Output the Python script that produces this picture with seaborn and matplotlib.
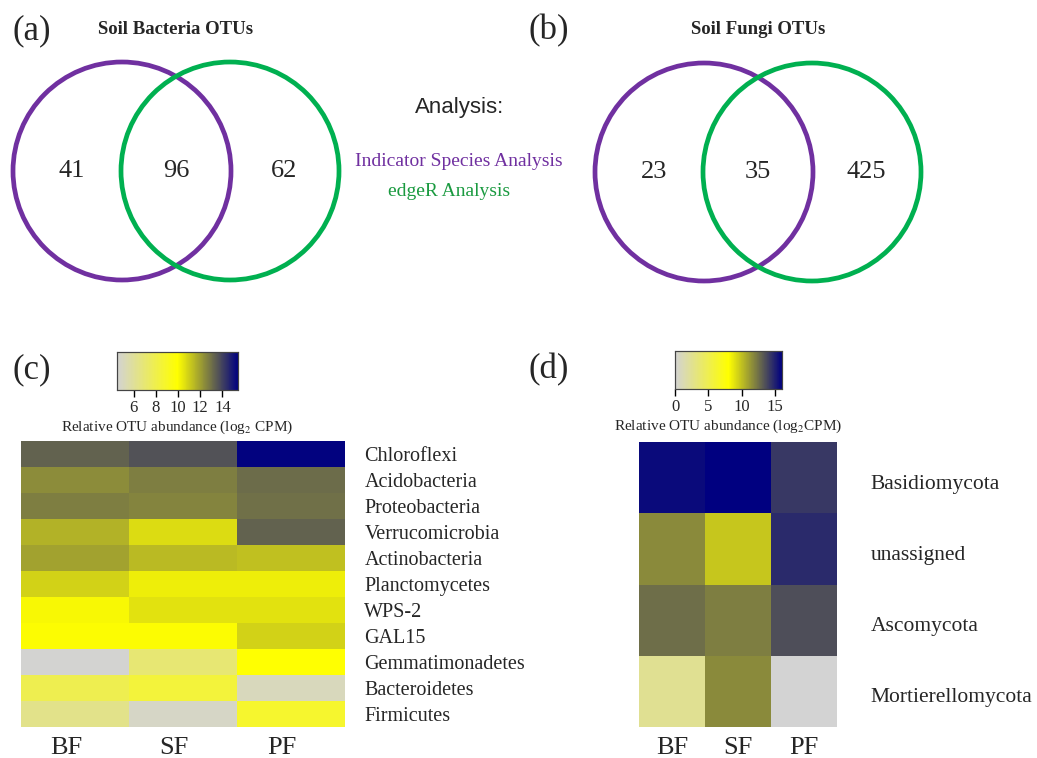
import pandas as pd
import matplotlib.pyplot as plt
import matplotlib.transforms as mtransforms
import seaborn as sns
from matplotlib.colors import LinearSegmentedColormap
from matplotlib.patches import Circle

# venn counts: only indicator, shared, only edgeR
bact_counts = [41, 96, 62]
fungi_counts = [23, 35, 425]

sites = ["BF", "SF", "PF"]

bact_phyla = ["Chloroflexi", "Acidobacteria", "Proteobacteria", "Verrucomicrobia",
              "Actinobacteria", "Planctomycetes", "WPS-2", "GAL15",
              "Gemmatimonadetes", "Bacteroidetes", "Firmicutes"]
bact_bf = [13.3, 12.4, 12.7, 11.6, 11.95, 10.9, 10.1, 10.0, 4.56, 7.9, 6.4]
bact_sf = [13.65, 12.7, 12.55, 10.7, 11.4, 10.3, 10.55, 10.0, 7.0, 8.45, 4.85]
bact_pf = [15.35, 13.1, 13.0, 13.3, 11.3, 10.3, 10.55, 10.9, 9.95, 5.1, 8.8]

fungi_phyla = ["Basidiomycota", "unassigned", "Ascomycota", "Mortierellomycota"]
fungi_bf = [15.7, 11.7, 12.6, 2.5]
fungi_sf = [16.0, 9.8, 12.1, 11.7]
fungi_pf = [14.3, 14.7, 13.6, 0.0]

sns.set_style("white")
plt.rcParams['font.family'] = ['Liberation Serif', 'DejaVu Serif']
plt.rcParams['mathtext.fontset'] = 'stix'

PURPLE = "#7030A0"
GREEN = "#00B050"
cmap = LinearSegmentedColormap.from_list("gyn", ["lightgray", "yellow", "navy"])

W, H = 1037, 758
fig = plt.figure(figsize=(W / 100, H / 100), dpi=100)

# background axes in pixel coordinates for venns and labels
bg = fig.add_axes([0, 0, 1, 1])
bg.set_xlim(0, W)
bg.set_ylim(H, 0)
bg.axis("off")


def venn(cx, cy, r, gap, counts, title, tag, tagx):
    bg.add_patch(Circle((cx, cy), r, fill=False, ec=PURPLE, lw=3.4))
    bg.add_patch(Circle((cx + gap, cy), r, fill=False, ec=GREEN, lw=3.4))
    xs = [cx - r * 0.46, cx + gap / 2, cx + gap + r * 0.5]
    for x, c in zip(xs, counts):
        bg.text(x, cy, str(c), ha="center", va="center", fontsize=19)
    bg.text(cx + gap / 2, 29, title, ha="center", va="center",
            fontsize=13.5, fontweight="bold")
    bg.text(tagx, 31, tag, ha="left", va="center", fontsize=25)


venn(122, 171, 109, 108, bact_counts, "Soil Bacteria OTUs", "(a)", 12)
venn(704, 172, 109, 108, fungi_counts, "Soil Fungi OTUs", "(b)", 528)

bg.text(460, 108, "Analysis:", ha="center", va="center", fontsize=16,
        family="Liberation Sans")
bg.text(459, 161, "Indicator Species Analysis", ha="center", va="center",
        fontsize=14, color=PURPLE)
bg.text(449, 191, "edgeR Analysis", ha="center", va="center",
        fontsize=14, color="#1A9A40")

bg.text(12, 370, "(c)", ha="left", va="center", fontsize=25)
bg.text(528, 370, "(d)", ha="left", va="center", fontsize=25)


def heat(df, rect, cbrect, vmin, vmax, ticks, label, pad, ysize, xshift, yshift):
    ax = fig.add_axes(rect)
    cax = fig.add_axes(cbrect)
    sns.heatmap(df, ax=ax, cmap=cmap, vmin=vmin, vmax=vmax, cbar_ax=cax,
                cbar_kws={"orientation": "horizontal", "ticks": ticks})
    ax.yaxis.tick_right()
    ax.set_yticklabels(df.index, rotation=0, fontsize=ysize)
    ax.set_xticklabels(df.columns, fontsize=19)
    ax.tick_params(axis="y", length=0, pad=pad)
    ax.tick_params(axis="x", length=0, pad=7)
    off = mtransforms.ScaledTranslation(xshift / 100, 0, fig.dpi_scale_trans)
    for t in ax.get_xticklabels():
        t.set_transform(t.get_transform() + off)
    offy = mtransforms.ScaledTranslation(0, -yshift / 100, fig.dpi_scale_trans)
    for t in ax.get_yticklabels():
        t.set_transform(t.get_transform() + offy)
    ax.set_xlabel("")
    ax.set_ylabel("")
    cax.tick_params(axis="x", length=5, width=1, labelsize=12, pad=2,
                    bottom=True, color="black")
    for s in cax.spines.values():
        s.set_visible(True)
        s.set_color("#444444")
        s.set_linewidth(0.8)
    cax.set_xlabel(label, fontsize=11, labelpad=2)
    return ax


bact_df = pd.DataFrame({"BF": bact_bf, "SF": bact_sf, "PF": bact_pf}, index=bact_phyla)
fungi_df = pd.DataFrame({"BF": fungi_bf, "SF": fungi_sf, "PF": fungi_pf}, index=fungi_phyla)

heat(bact_df, [21 / W, 1 - 727 / H, 324 / W, 286 / H],
     [117 / W, 1 - 390 / H, 121 / W, 38 / H], 4.5, 15.4, [6, 8, 10, 12, 14],
     "Relative OTU abundance (log$_2$ CPM)", 14, 14.5, -9, 0)
heat(fungi_df, [639 / W, 1 - 727 / H, 198 / W, 285 / H],
     [675 / W, 1 - 389 / H, 107 / W, 38 / H], 0, 16.06, [0, 5, 10, 15],
     "Relative OTU abundance (log$_2$CPM)", 24, 15.5, 0, 4)

fig.savefig("out.png", dpi=100)
